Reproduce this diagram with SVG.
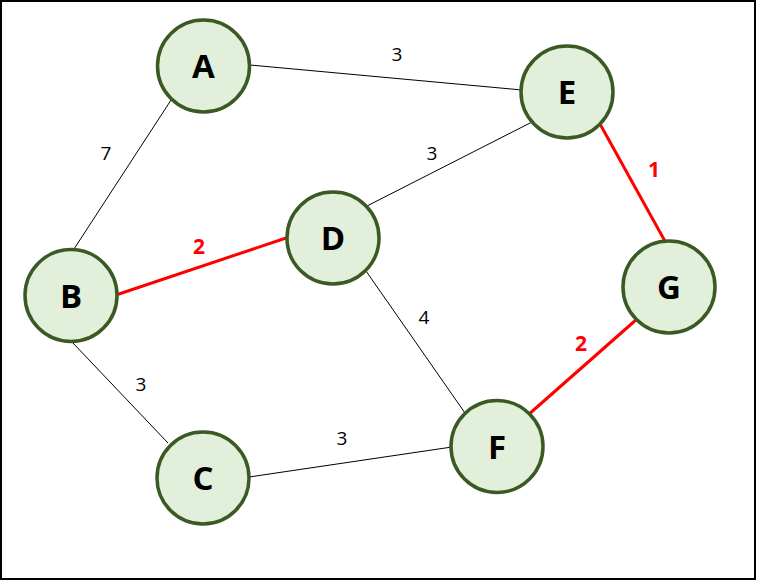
<svg xmlns="http://www.w3.org/2000/svg" width="757" height="581" viewBox="0 0 757 581">
<style>
.n{fill:#e2efda;stroke:#3b5a23;stroke-width:3.5}
.t{font-family:"Open Sans","Liberation Sans",sans-serif;font-weight:bold;font-size:33px;fill:#000;text-anchor:middle}
.e{stroke:#000;stroke-width:1}
.r{stroke:#ff0000;stroke-width:3}
.l{font-family:"Open Sans","Liberation Sans",sans-serif;font-size:19px;fill:#000;text-anchor:middle}
.lr{font-family:"Open Sans","Liberation Sans",sans-serif;font-size:21px;font-weight:bold;fill:#ff0000;text-anchor:middle}
</style>
<rect x="1" y="1" width="754" height="578" fill="#fff" stroke="#000" stroke-width="2"/>
<g id="connectors">
<line class="e" x1="250" y1="65" x2="522" y2="90"/>
<line class="e" x1="173" y1="97" x2="74" y2="249"/>
<line class="e" x1="365" y1="207" x2="532" y2="122"/>
<line class="e" x1="366" y1="271" x2="465" y2="413"/>
<line class="e" x1="72" y1="342" x2="168" y2="443"/>
<line class="e" x1="249" y1="477" x2="452" y2="447"/>
<line class="r" x1="116" y1="295" x2="289" y2="237"/>
<line class="r" x1="600" y1="124" x2="666" y2="243"/>
<line class="r" x1="528" y1="415" x2="637" y2="319"/>
<text class="l" x="397" y="61">3</text>
<text class="l" x="106" y="160">7</text>
<text class="l" x="432" y="160">3</text>
<text class="l" x="424" y="324">4</text>
<text class="l" x="141" y="391">3</text>
<text class="l" x="342" y="445">3</text>
<text class="lr" x="199" y="254">2</text>
<text class="lr" x="654" y="177">1</text>
<text class="lr" x="581" y="351">2</text>
</g>
<g id="A"><circle class="n" cx="203.5" cy="66" r="46"/><text class="t" x="203.5" y="78">A</text></g>
<g id="E"><circle class="n" cx="567" cy="92" r="46"/><text class="t" x="567" y="104">E</text></g>
<g id="D"><circle class="n" cx="333" cy="238" r="46"/><text class="t" x="333" y="250">D</text></g>
<g id="B"><circle class="n" cx="71" cy="295.5" r="46"/><text class="t" x="71" y="307.5">B</text></g>
<g id="G"><circle class="n" cx="669" cy="287" r="46"/><text class="t" x="669" y="299">G</text></g>
<g id="F"><circle class="n" cx="497" cy="446.5" r="46"/><text class="t" x="497" y="458.5">F</text></g>
<g id="C"><circle class="n" cx="203" cy="478" r="46"/><text class="t" x="203" y="490">C</text></g>
</svg>
